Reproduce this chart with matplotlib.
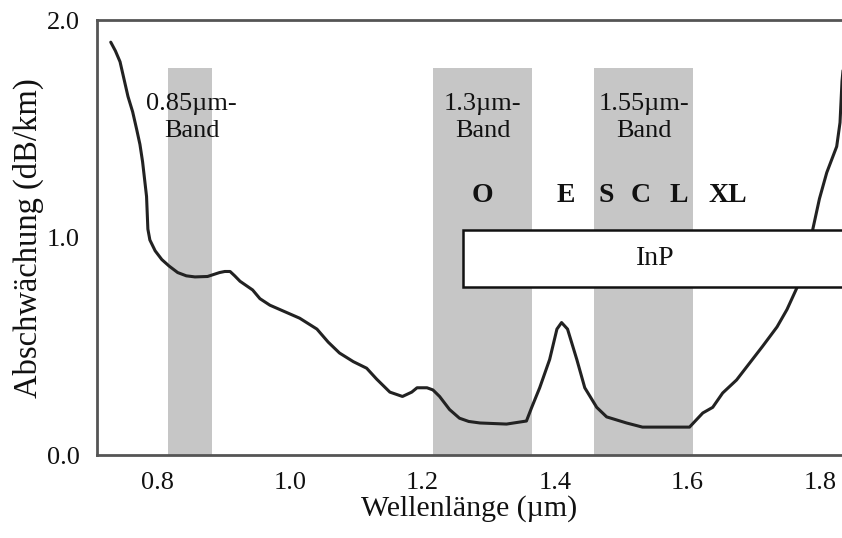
import matplotlib
matplotlib.use("Agg")
import matplotlib.pyplot as plt
from matplotlib.patches import Rectangle

# Attenuation curve
wavelength = [0.730, 0.737, 0.744, 0.750, 0.756, 0.763, 0.769, 0.774, 0.778, 0.781,
              0.784, 0.786, 0.789, 0.797, 0.807, 0.818, 0.831, 0.844, 0.857, 0.876,
              0.894, 0.902, 0.910, 0.917, 0.925, 0.944, 0.955, 0.970, 0.985, 1.015,
              1.041, 1.058, 1.075, 1.096, 1.116, 1.131, 1.151, 1.170, 1.184, 1.192,
              1.207, 1.216, 1.226, 1.241, 1.256, 1.270, 1.287, 1.327, 1.357, 1.365,
              1.377, 1.392, 1.403, 1.410, 1.419, 1.433, 1.445, 1.463, 1.478, 1.508,
              1.532, 1.603, 1.623, 1.638, 1.653, 1.674, 1.694, 1.713, 1.735, 1.750,
              1.765, 1.780, 1.789, 1.799, 1.810, 1.825, 1.830, 1.833, 1.840]
attenuation = [1.90, 1.86, 1.81, 1.73, 1.65, 1.58, 1.50, 1.43, 1.35, 1.27,
               1.19, 1.04, 0.99, 0.94, 0.90, 0.87, 0.84, 0.825, 0.82, 0.822,
               0.84, 0.845, 0.845, 0.825, 0.80, 0.76, 0.72, 0.69, 0.67, 0.63,
               0.58, 0.52, 0.47, 0.43, 0.40, 0.35, 0.29, 0.27, 0.29, 0.31,
               0.31, 0.30, 0.27, 0.21, 0.17, 0.155, 0.148, 0.143, 0.157, 0.22,
               0.31, 0.44, 0.58, 0.61, 0.58, 0.44, 0.31, 0.22, 0.176, 0.148,
               0.129, 0.129, 0.194, 0.22, 0.286, 0.346, 0.425, 0.50, 0.59, 0.67,
               0.77, 0.87, 1.04, 1.18, 1.30, 1.42, 1.53, 1.72, 1.95]

# Shaded transmission bands
band_start = [0.816, 1.216, 1.459]
band_end = [0.882, 1.365, 1.608]
band_top = 1.78
band_labels = ["0.85\u00b5m-\nBand", "1.3\u00b5m-\nBand", "1.55\u00b5m-\nBand"]
band_label_x = [0.852, 1.291, 1.534]

# Letter designations
letters = ["O", "E", "S", "C", "L", "XL"]
letter_x = [1.291, 1.416, 1.478, 1.529, 1.587, 1.661]

# InP box
inp_label = "InP"
inp_x0, inp_x1 = 1.261, 1.90
inp_y0, inp_y1 = 0.772, 1.034

xticks = [0.8, 1.0, 1.2, 1.4, 1.6, 1.8]
yticks = [0.0, 1.0, 2.0]

plt.rcParams['font.family'] = ['Liberation Serif', 'DejaVu Serif']

fig = plt.figure(figsize=(8.42, 5.38), dpi=100)
ax = fig.add_axes([0.115, 0.154, 0.885, 0.808])

for s, e in zip(band_start, band_end):
    ax.axvspan(s, e, ymin=0, ymax=band_top / 2.0, color='#c6c6c6', lw=0, zorder=1)

for lab, x in zip(band_labels, band_label_x):
    ax.text(x, 1.555, lab, ha='center', va='center', fontsize=19,
            linespacing=1.3, color='#111111', zorder=4)

for lab, x in zip(letters, letter_x):
    ax.text(x, 1.195, lab, ha='center', va='center', fontsize=20,
            fontweight='bold', color='#111111', zorder=4)

ax.plot(wavelength, attenuation, color='#222222', lw=2.2, zorder=2,
        solid_joinstyle='round', solid_capstyle='round')

ax.add_patch(Rectangle((inp_x0, inp_y0), inp_x1 - inp_x0, inp_y1 - inp_y0,
                       facecolor='white', edgecolor='#111111', lw=1.8,
                       zorder=3, clip_on=True))
ax.text((inp_x0 + 1.833) / 2 + 0.005, (inp_y0 + inp_y1) / 2, inp_label,
        ha='center', va='center', fontsize=20, color='#111111', zorder=4)

ax.set_xlim(0.709, 1.833)
ax.set_ylim(0.0, 2.0)
ax.set_xticks(xticks)
ax.set_xticklabels([f"{v:.1f}" for v in xticks])
ax.set_yticks(yticks)
ax.set_yticklabels([f"{v:.1f}" for v in yticks])
ax.tick_params(axis='both', length=0, labelsize=19, colors='#111111')
ax.tick_params(axis='x', pad=12)
ax.tick_params(axis='y', pad=12)

for side in ['left', 'bottom', 'top']:
    ax.spines[side].set_color('#555555')
    ax.spines[side].set_linewidth(2.0)
ax.spines['right'].set_visible(False)

ax.set_xlabel("Wellenl\u00e4nge (\u00b5m)", fontsize=21.5, labelpad=1, color='#111111')
ax.set_ylabel("Abschw\u00e4chung (dB/km)", fontsize=23.5, labelpad=2, color='#111111')

fig.savefig("out.png", dpi=100)
